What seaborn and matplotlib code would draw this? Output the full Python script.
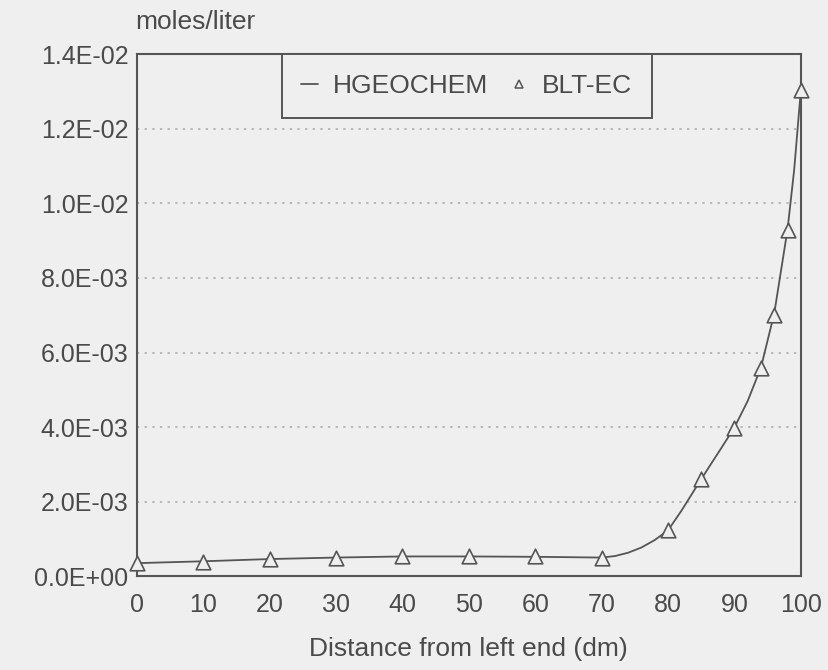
import numpy as np
import pandas as pd
import matplotlib
matplotlib.use("Agg")
import matplotlib.pyplot as plt
from matplotlib.ticker import FuncFormatter
from matplotlib.lines import Line2D
import seaborn as sns

# HGEOCHEM model curve (moles/liter vs distance in dm)
hgeo_x = [0, 10, 20, 30, 40, 50, 60, 70, 72, 74, 76, 78, 80, 82, 84, 86, 88,
          90, 92, 94, 96, 98, 99, 100]
hgeo_y = [0.00035, 0.00040, 0.00046, 0.00050, 0.00053, 0.00053, 0.00052,
          0.00050, 0.00054, 0.00063, 0.00077, 0.00097, 0.00123, 0.00175,
          0.00232, 0.00288, 0.00343, 0.00399, 0.00470, 0.00560, 0.00705,
          0.00930, 0.01090, 0.01303]

# BLT-EC results
blt_x = [0, 10, 20, 30, 40, 50, 60, 70, 80, 85, 90, 94, 96, 98, 100]
blt_y = [0.00035, 0.00038, 0.00046, 0.00050, 0.00054, 0.00054, 0.00053,
         0.00050, 0.00123, 0.00260, 0.00397, 0.00558, 0.00700, 0.00928,
         0.01303]

x_ticks = [0, 10, 20, 30, 40, 50, 60, 70, 80, 90, 100]
y_ticks = [0.0, 0.002, 0.004, 0.006, 0.008, 0.010, 0.012, 0.014]

sns.set_theme(style="white")
plt.rcParams["font.family"] = ["Liberation Sans", "DejaVu Sans"]

bg = "#efefef"
ink = "#4a4a4a"

fig = plt.figure(figsize=(8.29, 6.70), dpi=100, facecolor=bg)
ax = fig.add_axes([0.165, 0.140, 0.801, 0.779], facecolor=bg)

line_df = pd.DataFrame({"x": hgeo_x, "y": hgeo_y})
pts_df = pd.DataFrame({"x": blt_x, "y": blt_y})

sns.lineplot(data=line_df, x="x", y="y", ax=ax, color="#555555",
             linewidth=1.3, zorder=3)
sns.scatterplot(data=pts_df, x="x", y="y", ax=ax, marker="^", s=110,
                facecolor=bg, edgecolor="#555555", linewidth=1.2, zorder=4,
                clip_on=False)

ax.set_xlim(0, 100)
ax.set_ylim(0, 0.014)
ax.set_xticks(x_ticks)
ax.set_yticks(y_ticks)
ax.yaxis.set_major_formatter(FuncFormatter(lambda v, p: f"{v:.1E}"))

ax.grid(axis="y", linestyle=(0, (1.5, 3.5)), color="#a8a8a8", linewidth=1.1)
ax.grid(axis="x", visible=False)
for s in ax.spines.values():
    s.set_color("#555555")
    s.set_linewidth(1.5)

ax.tick_params(axis="both", length=0, labelsize=18, labelcolor=ink)
ax.tick_params(axis="x", pad=12)
ax.tick_params(axis="y", pad=6)

ax.set_xlabel("Distance from left end (dm)", fontsize=19, color=ink)
ax.xaxis.set_label_coords(0.5, -0.117)
ax.set_ylabel("")
fig.text(0.163, 0.967, "moles/liter", fontsize=19, color=ink,
         ha="left", va="center")

handles = [Line2D([], [], color="#555555", linewidth=1.3),
           Line2D([], [], color="#555555", marker="^", linestyle="None",
                  markersize=6, markerfacecolor=bg, markeredgewidth=1.1)]
leg = ax.legend(handles, ["HGEOCHEM", "BLT-EC"], ncol=2, loc="upper left",
                bbox_to_anchor=(0.218, 1.0), borderaxespad=0.0,
                fontsize=19, frameon=True, fancybox=False,
                handlelength=0.65, handletextpad=0.55, columnspacing=0.85,
                borderpad=0.75, labelcolor=ink)
leg.get_frame().set_edgecolor("#555555")
leg.get_frame().set_linewidth(1.4)
leg.get_frame().set_facecolor(bg)
leg.get_frame().set_alpha(1.0)

fig.savefig("out.png", dpi=100, facecolor=bg)
